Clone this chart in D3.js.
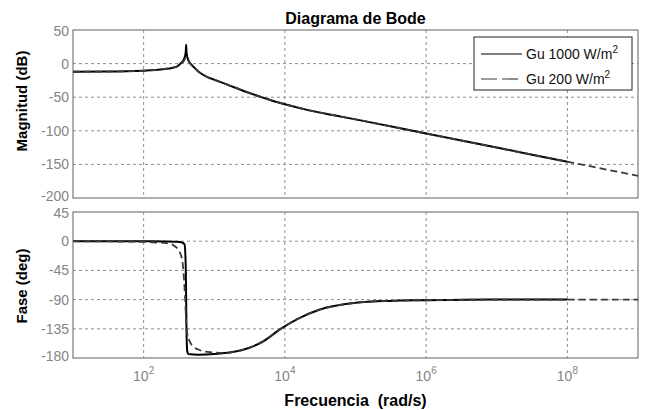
<!DOCTYPE html>
<html>
<head>
<meta charset="utf-8">
<script src="https://cdn.jsdelivr.net/npm/d3@7"></script>
<style>
  body { margin: 0; background: #fff; }
  text { font-family: "Liberation Sans", Arial, sans-serif; }
</style>
</head>
<body>
<div id="bode"></div>
<script>
// Data (rad/s, dB, deg)
let freqMag1000 = [10, 30, 100, 200, 250, 300, 340, 370, 385, 395, 400, 405, 415, 430, 460, 500, 600, 800, 1000, 1500, 2000, 3000, 5000, 7000, 1e4, 2e4, 5e4, 1e5, 1e6, 1e7, 1e8];
let mag1000 = [-12, -11.8, -10.5, -8, -6.5, -4, 1, 6, 11, 18, 28, 17, 10, 5, 0, -4, -12, -20, -24, -31, -36, -43, -51, -56, -60.5, -68.5, -77, -83, -104, -125, -146];

let freqMag200 = [10, 30, 100, 200, 250, 300, 340, 370, 385, 395, 400, 405, 415, 430, 460, 500, 600, 800, 1000, 1500, 2000, 3000, 5000, 7000, 1e4, 2e4, 5e4, 1e5, 1e6, 1e7, 1e8, 1e9];
let mag200 = [-12, -11.8, -10.5, -8, -6.5, -4, 0, 4, 7, 9, 9, 8, 6, 4, 0, -4, -12, -20, -24, -31, -36, -43, -51, -56, -60.5, -68.5, -77, -83, -104, -125, -146, -167];

let freqPh1000 = [10, 100, 200, 300, 350, 380, 395, 400, 405, 415, 430, 600, 1000, 1500, 2000, 3000, 5000, 8500, 15000, 3e4, 1e5, 3e5, 1e6, 1e7, 1e8];
let phase1000 = [0, -0.2, -0.5, -1, -2, -5, -40, -90, -140, -170, -174, -175, -174, -172, -170, -165, -154, -136, -120, -106, -95, -92, -91, -90, -90];

let freqPh200 = [10, 100, 150, 214, 261, 328, 362, 386, 407, 440, 480, 630, 870, 1500, 2000, 3000, 5000, 8500, 15000, 3e4, 1e5, 3e5, 1e6, 1e7, 1e8, 1e9];
let phase200 = [0, -1, -2, -3, -6, -18, -40, -86, -137, -152, -160, -168, -171, -172, -170, -165, -154, -136, -120, -106, -95, -92, -91, -90, -90, -90];

let magTicks = [50, 0, -50, -100, -150, -200];
let phaseTicks = [45, 0, -45, -90, -135, -180];
let freqTicks = [1e2, 1e4, 1e6, 1e8];
let seriesNames = ["Gu 1000 W/m", "Gu 200 W/m"];

let W = 654, H = 410;
let left = 73, right = 638;
let magBox = { top: 30, bottom: 198 };
let phBox = { top: 212, bottom: 358 };

let svg = d3.select("#bode")
  .append("svg")
  .attr("width", W)
  .attr("height", H);

// Scales
let x = d3.scaleLog()
  .domain([10, 1e9])
  .range([left, right]);

let yMag = d3.scaleLinear()
  .domain([-200, 50])
  .range([magBox.bottom, magBox.top]);

let yPh = d3.scaleLinear()
  .domain([-180, 45])
  .range([phBox.bottom, phBox.top]);

let gridColor = "#8f8f8f";
let tickColor = "#858585";

// draw one panel: box, grid, y tick labels
function panel(y, ticks, box) {
  let g = svg.append("g");

  g.selectAll(".hgrid")
    .data(ticks.slice(1, -1))
    .enter().append("line")
    .attr("x1", left).attr("x2", right)
    .attr("y1", d => y(d)).attr("y2", d => y(d))
    .attr("stroke", gridColor)
    .attr("stroke-dasharray", "3,3");

  g.selectAll(".vgrid")
    .data(freqTicks)
    .enter().append("line")
    .attr("x1", d => x(d)).attr("x2", d => x(d))
    .attr("y1", box.top).attr("y2", box.bottom)
    .attr("stroke", gridColor)
    .attr("stroke-dasharray", "3,3");

  g.append("rect")
    .attr("x", left).attr("y", box.top)
    .attr("width", right - left)
    .attr("height", box.bottom - box.top)
    .attr("fill", "none")
    .attr("stroke", "#7a7a7a")
    .attr("stroke-width", 1.2);

  // the bottom label of the top panel and top label of the lower one sit close, nudge them apart
  g.selectAll(".ylab")
    .data(ticks)
    .enter().append("text")
    .attr("x", left - 4)
    .attr("y", (d, i) => y(d) + (i == ticks.length - 1 ? 3 : i == 0 ? 6 : 5))
    .attr("text-anchor", "end")
    .attr("font-size", "14px")
    .attr("fill", tickColor)
    .text(d => d);
}

panel(yMag, magTicks, magBox);
panel(yPh, phaseTicks, phBox);

// x tick labels 10^n
let xl = svg.selectAll(".xlab")
  .data(freqTicks)
  .enter().append("text")
  .attr("x", d => x(d))
  .attr("y", 381)
  .attr("text-anchor", "middle")
  .attr("font-size", "14px")
  .attr("fill", tickColor);
xl.append("tspan").text("10");
xl.append("tspan")
  .attr("dy", -7)
  .attr("font-size", "10px")
  .text(d => Math.round(Math.log10(d)));

// Lines
function drawLine(fr, vals, y, dashed) {
  let pts = fr.map((f, i) => [f, vals[i]]);
  let line = d3.line()
    .x(d => x(d[0]))
    .y(d => y(d[1]))
    .curve(d3.curveMonotoneX);
  svg.append("path")
    .datum(pts)
    .attr("d", line)
    .attr("fill", "none")
    .attr("stroke", dashed ? "#3a3a3a" : "#000")
    .attr("stroke-width", dashed ? 1.8 : 2)
    .attr("stroke-dasharray", dashed ? "7,4" : null);
}

drawLine(freqMag1000, mag1000, yMag, false);
drawLine(freqMag200, mag200, yMag, true);
drawLine(freqPh1000, phase1000, yPh, false);
drawLine(freqPh200, phase200, yPh, true);

// Title and labels
svg.append("text")
  .attr("x", (left + right) / 2)
  .attr("y", 24)
  .attr("text-anchor", "middle")
  .attr("font-size", "16px")
  .attr("font-weight", "bold")
  .text("Diagrama de Bode");

svg.append("text")
  .attr("x", (left + right) / 2)
  .attr("y", 406)
  .attr("text-anchor", "middle")
  .attr("font-size", "16px")
  .attr("font-weight", "bold")
  .attr("xml:space", "preserve")
  .style("white-space", "pre")
  .text("Frecuencia  (rad/s)");

svg.append("text")
  .attr("transform", "translate(27," + 101 + ") rotate(-90)")
  .attr("text-anchor", "middle")
  .attr("font-size", "15px")
  .attr("font-weight", "bold")
  .text("Magnitud (dB)");

svg.append("text")
  .attr("transform", "translate(27," + 286 + ") rotate(-90)")
  .attr("text-anchor", "middle")
  .attr("font-size", "15px")
  .attr("font-weight", "bold")
  .text("Fase (deg)");

// Legend
let leg = svg.append("g");
leg.append("rect")
  .attr("x", 474).attr("y", 37)
  .attr("width", 158).attr("height", 53)
  .attr("fill", "#fff")
  .attr("stroke", "#222");

seriesNames.forEach((name, i) => {
  let ly = 54 + i * 25;
  leg.append("line")
    .attr("x1", 481).attr("x2", 522)
    .attr("y1", ly).attr("y2", ly)
    .attr("stroke", i == 0 ? "#000" : "#3a3a3a")
    .attr("stroke-width", 1.2)
    .attr("stroke-dasharray", i == 0 ? null : "16,5");
  let t = leg.append("text")
    .attr("x", 526)
    .attr("y", ly + 5)
    .attr("font-size", "14px")
    .attr("fill", "#111");
  t.append("tspan").text(name);
  t.append("tspan")
    .attr("dy", -6)
    .attr("font-size", "10px")
    .text("2");
});
</script>
</body>
</html>
